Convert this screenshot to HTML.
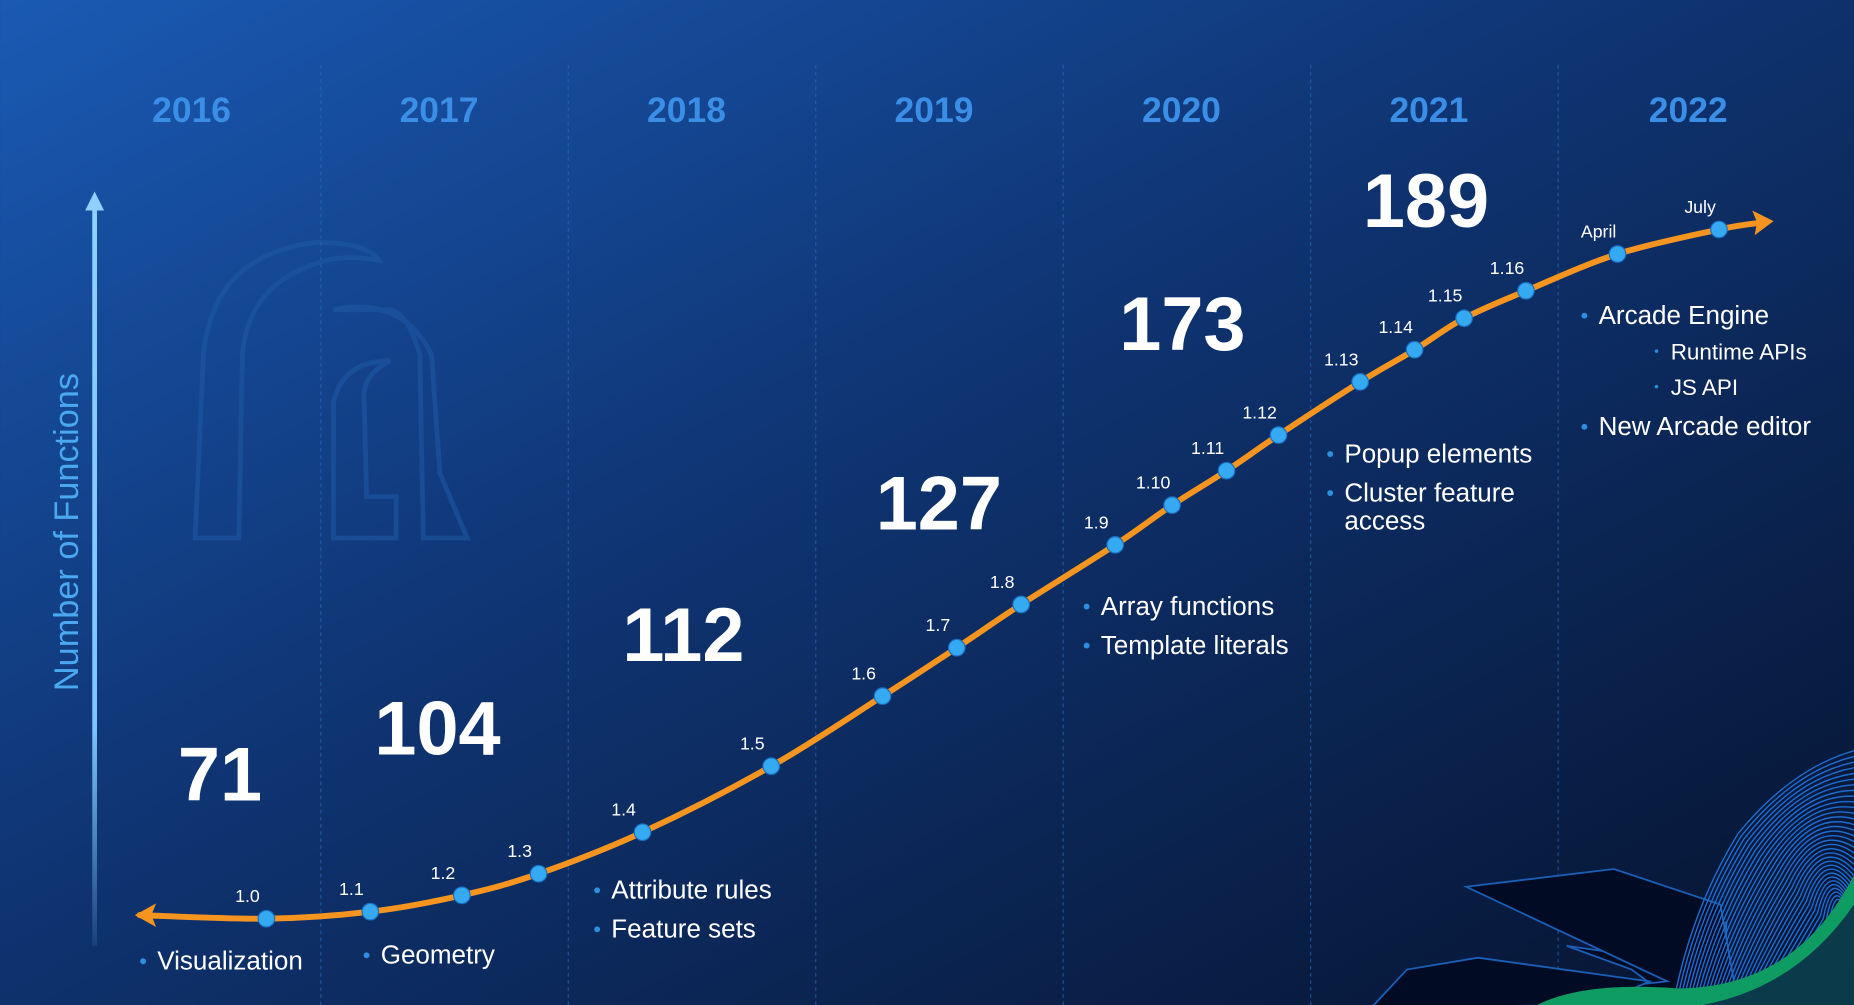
<!DOCTYPE html>
<html><head><meta charset="utf-8"><style>
html,body{margin:0;padding:0;background:#0b1c40;}
svg{display:block}
text{font-family:"Liberation Sans",sans-serif}
</style></head><body>
<svg id="chart" width="1854" height="1005" viewBox="0 0 1568 850" xmlns="http://www.w3.org/2000/svg">
<defs>
<linearGradient id="bg" x1="0" y1="0" x2="1" y2="1">
<stop offset="0" stop-color="#1a5ab4"/>
<stop offset="0.45" stop-color="#0f3472"/>
<stop offset="1" stop-color="#06132e"/>
</linearGradient>
<linearGradient id="ax" x1="0" y1="1" x2="0" y2="0">
<stop offset="0" stop-color="#7cc6ff" stop-opacity="0.1"/>
<stop offset="0.3" stop-color="#7cc6ff"/>
<stop offset="1" stop-color="#8fd0ff"/>
</linearGradient>
</defs>
<rect width="1568" height="850" fill="url(#bg)"/>
<g fill="none" stroke="#1f5aa6" stroke-width="4" opacity="0.55">
<path d="M165,455 L172,300 Q180,215 268,205 Q310,205 320,220 Q290,215 270,222 Q210,240 205,300 L202,455 Z"/>
<path d="M282,262 Q340,250 365,300 L372,400 L395,455 L358,455 L355,300 Q345,265 330,262 Z"/>
<path d="M282,455 L282,340 Q290,305 330,305 Q305,318 308,340 L310,420 L335,420 L335,455 Z"/>
</g>
<g id="grid"></g>
<g id="years"></g>
<g>
<rect x="78" y="175" width="4" height="625" fill="url(#ax)"/>
<polygon points="80,162 72,178 88,178" fill="#8fd0ff"/>
<text transform="translate(66,450) rotate(-90)" text-anchor="middle" font-size="29" fill="#4aa8f0">Number of Functions</text>
</g>
<g>
<g fill="#020b24" stroke="#1a5fb8" stroke-width="1.5">
<polygon points="1330,741 1385,755 1440,790 1460,780 1460,850 1420,850 1380,820 1325,800 1360,805"/>
<polygon points="1365,735 1455,765 1470,850 1350,850 1320,840 1410,830 1240,750"/>
<polygon points="1160,852 1190,820 1250,810 1395,830 1350,850"/>
</g>
<g id="waves" fill="none" stroke="#1e6cd0" stroke-width="1.2"></g>
<path d="M1300,850 Q1340,830 1420,836 Q1520,835 1568,740 L1568,850 Z" fill="#0e9c62"/>
<path d="M1440,850 Q1520,835 1568,765 L1568,850 Z" fill="#0b3a4a"/>
</g>
<g id="series"></g>
<g id="annot"></g>
</svg>
<script>
const years=[2016,2017,2018,2019,2020,2021,2022];
const versions=["1.0","1.1","1.2","1.3","1.4","1.5","1.6","1.7","1.8","1.9","1.10","1.11","1.12","1.13","1.14","1.15","1.16","April","July"];
const releaseDates=[2016.78,2017.20,2017.57,2017.88,2018.30,2018.82,2019.27,2019.57,2019.83,2020.21,2020.44,2020.66,2020.87,2021.20,2021.42,2021.62,2021.87,2022.24,2022.65];
const curveValues=[71,72.2,75.0,78.7,85.8,97.1,109.1,117.4,124.8,135.0,141.8,147.7,153.8,162.9,168.4,173.8,178.5,184.8,189];
const totals=["71","104","112","127","173","189"];
const NS="http://www.w3.org/2000/svg";
function xS(y){return 62+(y-2016)*209.3;}
function yS(v){return 777-(v-71)*4.94;}
function mk(tag,attrs,parent,txt){const e=document.createElementNS(NS,tag);for(const k in attrs)e.setAttribute(k,attrs[k]);if(txt!==undefined)e.textContent=txt;parent.appendChild(e);return e;}
const grid=document.getElementById('grid'),yrs=document.getElementById('years');
years.forEach((y,i)=>{
 if(i>0){const l=mk('line',{x1:xS(y),x2:xS(y),y1:55,y2:850,stroke:'#2a6fc0','stroke-width':1,'stroke-dasharray':'3 3',opacity:0.6},grid);
 
 }
 const t=mk('text',{x:xS(y)+(i==6?110:100),y:103,'text-anchor':'middle','font-size':30,'font-weight':'bold',fill:'#3a8ee6'},yrs,String(y));
 
 
});
const pts=releaseDates.map((d,i)=>[xS(d),yS(curveValues[i])]);
const all=[[118,774]].concat(pts).concat([[1492,188]]);
let d='M'+all[0][0]+','+all[0][1];
for(let i=0;i<all.length-1;i++){const p0=all[Math.max(0,i-1)],p1=all[i],p2=all[i+1],p3=all[Math.min(all.length-1,i+2)];
 d+=' C'+(p1[0]+(p2[0]-p0[0])/6)+','+(p1[1]+(p2[1]-p0[1])/6)+' '+(p2[0]-(p3[0]-p1[0])/6)+','+(p2[1]-(p3[1]-p1[1])/6)+' '+p2[0]+','+p2[1];}
const s=document.getElementById('series');
const line=mk('path',{d:d,fill:'none',stroke:'#f5951f','stroke-width':5,'stroke-linecap':'round'},s);


const la=mk('polygon',{points:'114,774 132,764 128,774 132,784',fill:'#f5951f'},s);


const ra=mk('polygon',{points:'1500,187 1482,178 1486,188 1484,199',fill:'#f5951f'},s);


pts.forEach((p,i)=>{
 const c=mk('circle',{cx:p[0],cy:p[1],r:7,fill:'#35a9f2',stroke:'#1a6fc0','stroke-width':1},s);
 
 
 const t=mk('text',{x:p[0]-16,y:p[1]-14,'text-anchor':'middle','font-size':15,fill:'#ffffff'},s,versions[i]);
 
 
});
const an=document.getElementById('annot');
const totPos=[[186,677],[370,638],[578,559],[794,448],[1000,296],[1206,192]];
totals.forEach((v,i)=>{
 const t=mk('text',{x:totPos[i][0],y:totPos[i][1],'text-anchor':'middle','font-size':64,'font-weight':'bold',fill:'#ffffff'},an,v);
 
 
});
const bullets=[["Visualization",133,820,22],["Geometry",322,815,22],["Attribute rules",517,760,22],["Feature sets",517,793,22],["Array functions",931,520,22],["Template literals",931,553,22],["Popup elements",1137,391,22],["Cluster feature",1137,424,22],["access",1137,448,22,1],["Arcade Engine",1352,274,22],["Runtime APIs",1413,304,19],["JS API",1413,334,19],["New Arcade editor",1352,368,22]];
bullets.forEach(b=>{
 if(!b[4]){const dot=mk('circle',{cx:b[1]-12,cy:b[2]-7,r:b[3]<20?1.5:2.5,fill:'#2d8fe0'},an);
 
 }
 const t=mk('text',{x:b[1],y:b[2],'font-size':b[3],fill:'#ffffff'},an,b[0]);
 
 
});
const w=document.getElementById('waves');
for(let i=0;i<40;i++){const o=i*3;
 mk('path',{d:'M'+(1415+o*0.9)+',850 Q'+(1430+o)+','+(770+o*0.5)+' '+(1470+o*0.8)+','+(705+o*0.8)+' Q'+(1515+o*0.4)+','+(650+o*0.9)+' 1568,'+(635+o*1.6)},w);}
</script>
</body></html>
